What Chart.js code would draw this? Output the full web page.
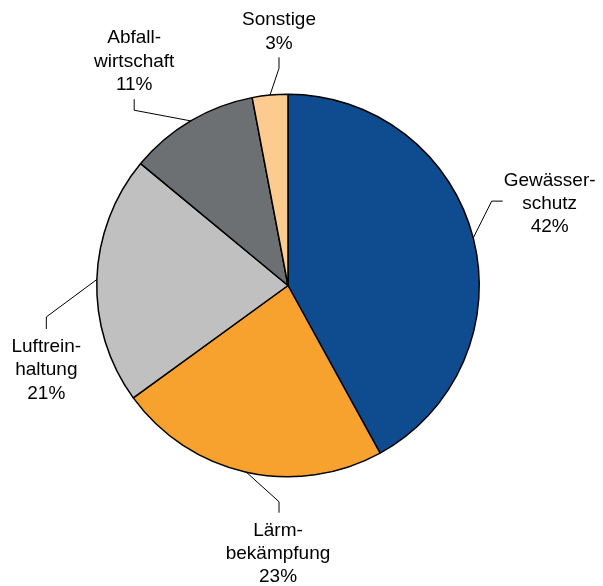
<!DOCTYPE html>
<html>
<head>
<meta charset="utf-8">
<script src="https://cdn.jsdelivr.net/npm/chart.js@4/dist/chart.umd.min.js"></script>
<style>
html,body{margin:0;padding:0;background:#fff;}
#wrap{width:603px;height:586px;position:relative;}
</style>
</head>
<body>
<div id="wrap"><canvas id="c" width="603" height="586"></canvas></div>
<script>
// Data
const categories = [["Gewässer-","schutz"],["Lärm-","bekämpfung"],["Luftrein-","haltung"],["Abfall-","wirtschaft"],["Sonstige"]];
const shares = [42, 23, 21, 11, 3];
const colors = ["#0f4c8f", "#f7a12f", "#c0c0c0", "#6d7073", "#fdca90"];

// Label layout (offsets from pie centre, in px at reference radius 191.5)
const REF_R = 191.5;
const labelLayout = [
  {elbow:[204,-84.5], tail:[215,-84.5], text:[262,-99.8]},
  {elbow:[-9,216.5], tail:[-9,227.5], text:[-10,250.5]},
  {elbow:[-242,31.5], tail:[-242,43.5], text:[-242,66.5]},
  {elbow:[-154,-175.5], tail:[-154,-186.5], text:[-154,-242.5]},
  {elbow:[-9,-217.5], tail:[-9,-228.5], text:[-9,-260.5]}
];
const LINE_H = 23.3;

const labelPlugin = {
  id: 'outLabels',
  afterDatasetsDraw(chart) {
    const ctx = chart.ctx;
    const meta = chart.getDatasetMeta(0);
    ctx.save();
    meta.data.forEach((arc, i) => {
      const p = arc.getProps(['x','y','startAngle','endAngle','outerRadius'], true);
      const mid = (p.startAngle + p.endAngle) / 2;
      const r = p.outerRadius;
      const s = r / REF_R;
      const L = labelLayout[i];
      const sx = p.x + Math.cos(mid) * r, sy = p.y + Math.sin(mid) * r;
      ctx.beginPath();
      ctx.strokeStyle = '#000';
      ctx.lineWidth = 1;
      ctx.moveTo(sx, sy);
      ctx.lineTo(p.x + L.elbow[0]*s, p.y + L.elbow[1]*s);
      ctx.lineTo(p.x + L.tail[0]*s, p.y + L.tail[1]*s);
      ctx.stroke();
      const lines = categories[i].concat([shares[i] + '%']);
      ctx.fillStyle = '#000';
      ctx.font = '19px "Liberation Sans", Arial, sans-serif';
      ctx.textAlign = 'center';
      ctx.textBaseline = 'alphabetic';
      lines.forEach((t, k) => {
        ctx.fillText(t, p.x + L.text[0]*s, p.y + L.text[1]*s + k*LINE_H);
      });
    });
    ctx.restore();
  }
};

new Chart(document.getElementById('c'), {
  type: 'pie',
  data: {
    labels: categories.map(c => c.join('')),
    datasets: [{
      data: shares,
      backgroundColor: colors,
      borderColor: '#000',
      borderWidth: 1.5,
      borderAlign: 'center'
    }]
  },
  options: {
    responsive: false,
    animation: false,
    layout: { padding: { left: 96, right: 123, top: 93.5, bottom: 108.5 } },
    plugins: { legend: { display: false }, tooltip: { enabled: false } }
  },
  plugins: [labelPlugin]
});
</script>
</body>
</html>
